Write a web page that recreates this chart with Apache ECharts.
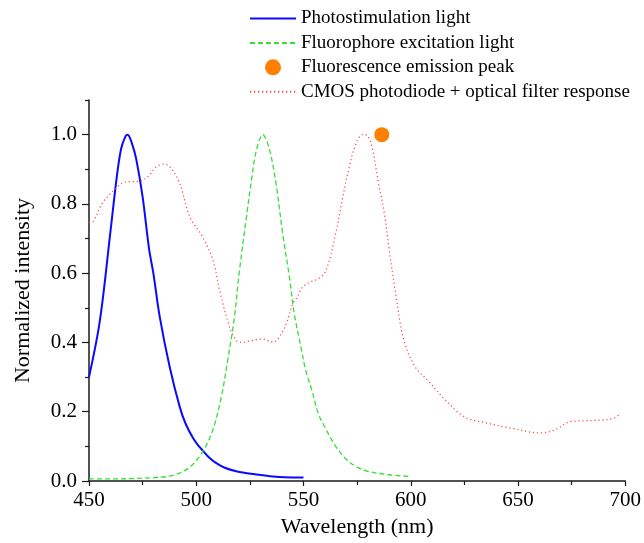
<!DOCTYPE html>
<html>
<head>
<meta charset="utf-8">
<script src="https://cdn.jsdelivr.net/npm/echarts@6/dist/echarts.min.js"></script>
<style>html,body{margin:0;padding:0;background:#fff}#c{width:644px;height:543px}</style>
</head>
<body>
<div id="c"></div>
<script>
// Wavelengths (nm) and normalized intensities
const photoX = [450,455,460,463,465,467,468,470,472,475,478,480,483,487.6,492.3,495,498.5,501,503,506,509,513,518.6,523,528,537,545,550];
const photoY = [0.30,0.46,0.72,0.88,0.96,0.995,1.0,0.975,0.93,0.82,0.67,0.6,0.473,0.33,0.214,0.166,0.124,0.102,0.088,0.068,0.053,0.039,0.028,0.023,0.019,0.012,0.01,0.01];

const exciteX = [450,460,470,480,489,497,503,507.7,511.7,514.7,517.8,520,523.4,526,528,531,534,537.2,540.3,543.4,545.7,548.8,551,554,557,560,565,570,575,580,590,600];
const exciteY = [0.006,0.006,0.007,0.01,0.016,0.04,0.085,0.147,0.243,0.35,0.473,0.6,0.762,0.88,0.954,1.0,0.96,0.858,0.714,0.59,0.483,0.387,0.32,0.26,0.193,0.155,0.1,0.062,0.04,0.028,0.018,0.013];

const emissionX = [586.5];
const emissionY = [1.0];

const cmosX = [450,452,456,460,463,466,470,474,478,481,485,488,492.3,497,503,507.8,510.9,515.5,518.6,521,524.8,528,531,535.6,538.8,542,545,547,549.6,554,557,560.5,565,568,571.3,574.4,577.5,579.8,582,585,587.5,590,593,596.8,602,608,616,625,635,647,660,667,675,686,694,698];
const cmosY = [0.745,0.75,0.80,0.83,0.848,0.862,0.864,0.866,0.882,0.905,0.915,0.905,0.859,0.762,0.704,0.637,0.55,0.445,0.406,0.40,0.404,0.408,0.41,0.401,0.416,0.455,0.512,0.53,0.56,0.577,0.584,0.608,0.714,0.81,0.906,0.973,1.0,0.997,0.963,0.858,0.78,0.666,0.54,0.406,0.33,0.29,0.235,0.185,0.168,0.152,0.139,0.147,0.172,0.175,0.18,0.195];

const xTicks = [450,500,550,600,650,700];
const yLabels = [0,0.2,0.4,0.6,0.8,1.0];
const yMinor = [0.1,0.3,0.5,0.7,0.9,1.1];

const zip = (xs, ys) => xs.map((x, i) => [x, ys[i]]);
const FONT = 'Liberation Serif';
const AX = '#1a1a1a';

const chart = echarts.init(document.getElementById('c'), null, {renderer: 'canvas'});
chart.setOption({
  animation: false,
  backgroundColor: '#fff',
  textStyle: {fontFamily: FONT},
  grid: {left: 89, right: 17, top: 100, bottom: 62, containLabel: false},
  legend: {
    orient: 'vertical', left: 249, top: 9, padding: 0,
    itemWidth: 46, itemHeight: 16, itemGap: 5.4,
    textStyle: {fontFamily: FONT, fontSize: 19, color: '#000'},
    data: [
      {name: 'Photostimulation light', itemStyle: {opacity: 0}},
      {name: 'Fluorophore excitation light', itemStyle: {opacity: 0}},
      {name: 'Fluorescence emission peak'},
      {name: 'CMOS photodiode + optical filter response', itemStyle: {opacity: 0}}
    ]
  },
  xAxis: {
    type: 'value', min: 450, max: 700, interval: 50,
    name: 'Wavelength (nm)', nameLocation: 'middle', nameGap: 28,
    nameTextStyle: {fontFamily: FONT, fontSize: 22, color: '#000'},
    axisLine: {show: true, onZero: false, lineStyle: {color: AX, width: 1.5}},
    axisTick: {show: true, inside: false, length: 5, lineStyle: {color: AX, width: 1.2}},
    minorTick: {show: true, splitNumber: 2, length: 4, lineStyle: {color: AX, width: 1.2}},
    axisLabel: {fontFamily: FONT, fontSize: 21, color: '#000', margin: 9, customValues: xTicks},
    splitLine: {show: false}
  },
  yAxis: [{
    type: 'value', min: 0, max: 1.1,
    name: 'Normalized intensity', nameLocation: 'middle', nameGap: 55,
    nameTextStyle: {fontFamily: FONT, fontSize: 22, color: '#000'},
    axisLine: {show: true, onZero: false, lineStyle: {color: AX, width: 1.5}},
    axisTick: {show: true, inside: false, length: 7, customValues: yLabels, lineStyle: {color: AX, width: 1.2}},
    axisLabel: {fontFamily: FONT, fontSize: 21, color: '#000', margin: 12, customValues: yLabels, formatter: v => Number(v).toFixed(1)},
    splitLine: {show: false}
  }, {
    type: 'value', min: 0, max: 1.1, position: 'left',
    axisLine: {show: false},
    axisTick: {show: true, inside: false, length: 4, customValues: yMinor, lineStyle: {color: AX, width: 1.2}},
    axisLabel: {show: false},
    splitLine: {show: false}
  }],
  series: [{
    name: 'Photostimulation light', type: 'line', symbol: 'none', smooth: 0.35,
    data: zip(photoX, photoY),
    lineStyle: {color: '#0a0aff', width: 2},
    itemStyle: {color: '#0a0aff'}
  }, {
    name: 'Fluorophore excitation light', type: 'line', symbol: 'none', smooth: 0.35,
    data: zip(exciteX, exciteY),
    lineStyle: {color: '#33e033', width: 1.3, type: [5, 3]},
    itemStyle: {color: '#33e033'}
  }, {
    name: 'Fluorescence emission peak', type: 'scatter', symbol: 'circle', symbolSize: 15,
    data: zip(emissionX, emissionY),
    itemStyle: {color: '#ff8000', opacity: 1}
  }, {
    name: 'CMOS photodiode + optical filter response', type: 'line', symbol: 'none', smooth: 0.35,
    data: zip(cmosX, cmosY),
    lineStyle: {color: '#ff4040', width: 1.2, type: [1.2, 2.8]},
    itemStyle: {color: '#ff4040'}
  }]
});
</script>
</body>
</html>
